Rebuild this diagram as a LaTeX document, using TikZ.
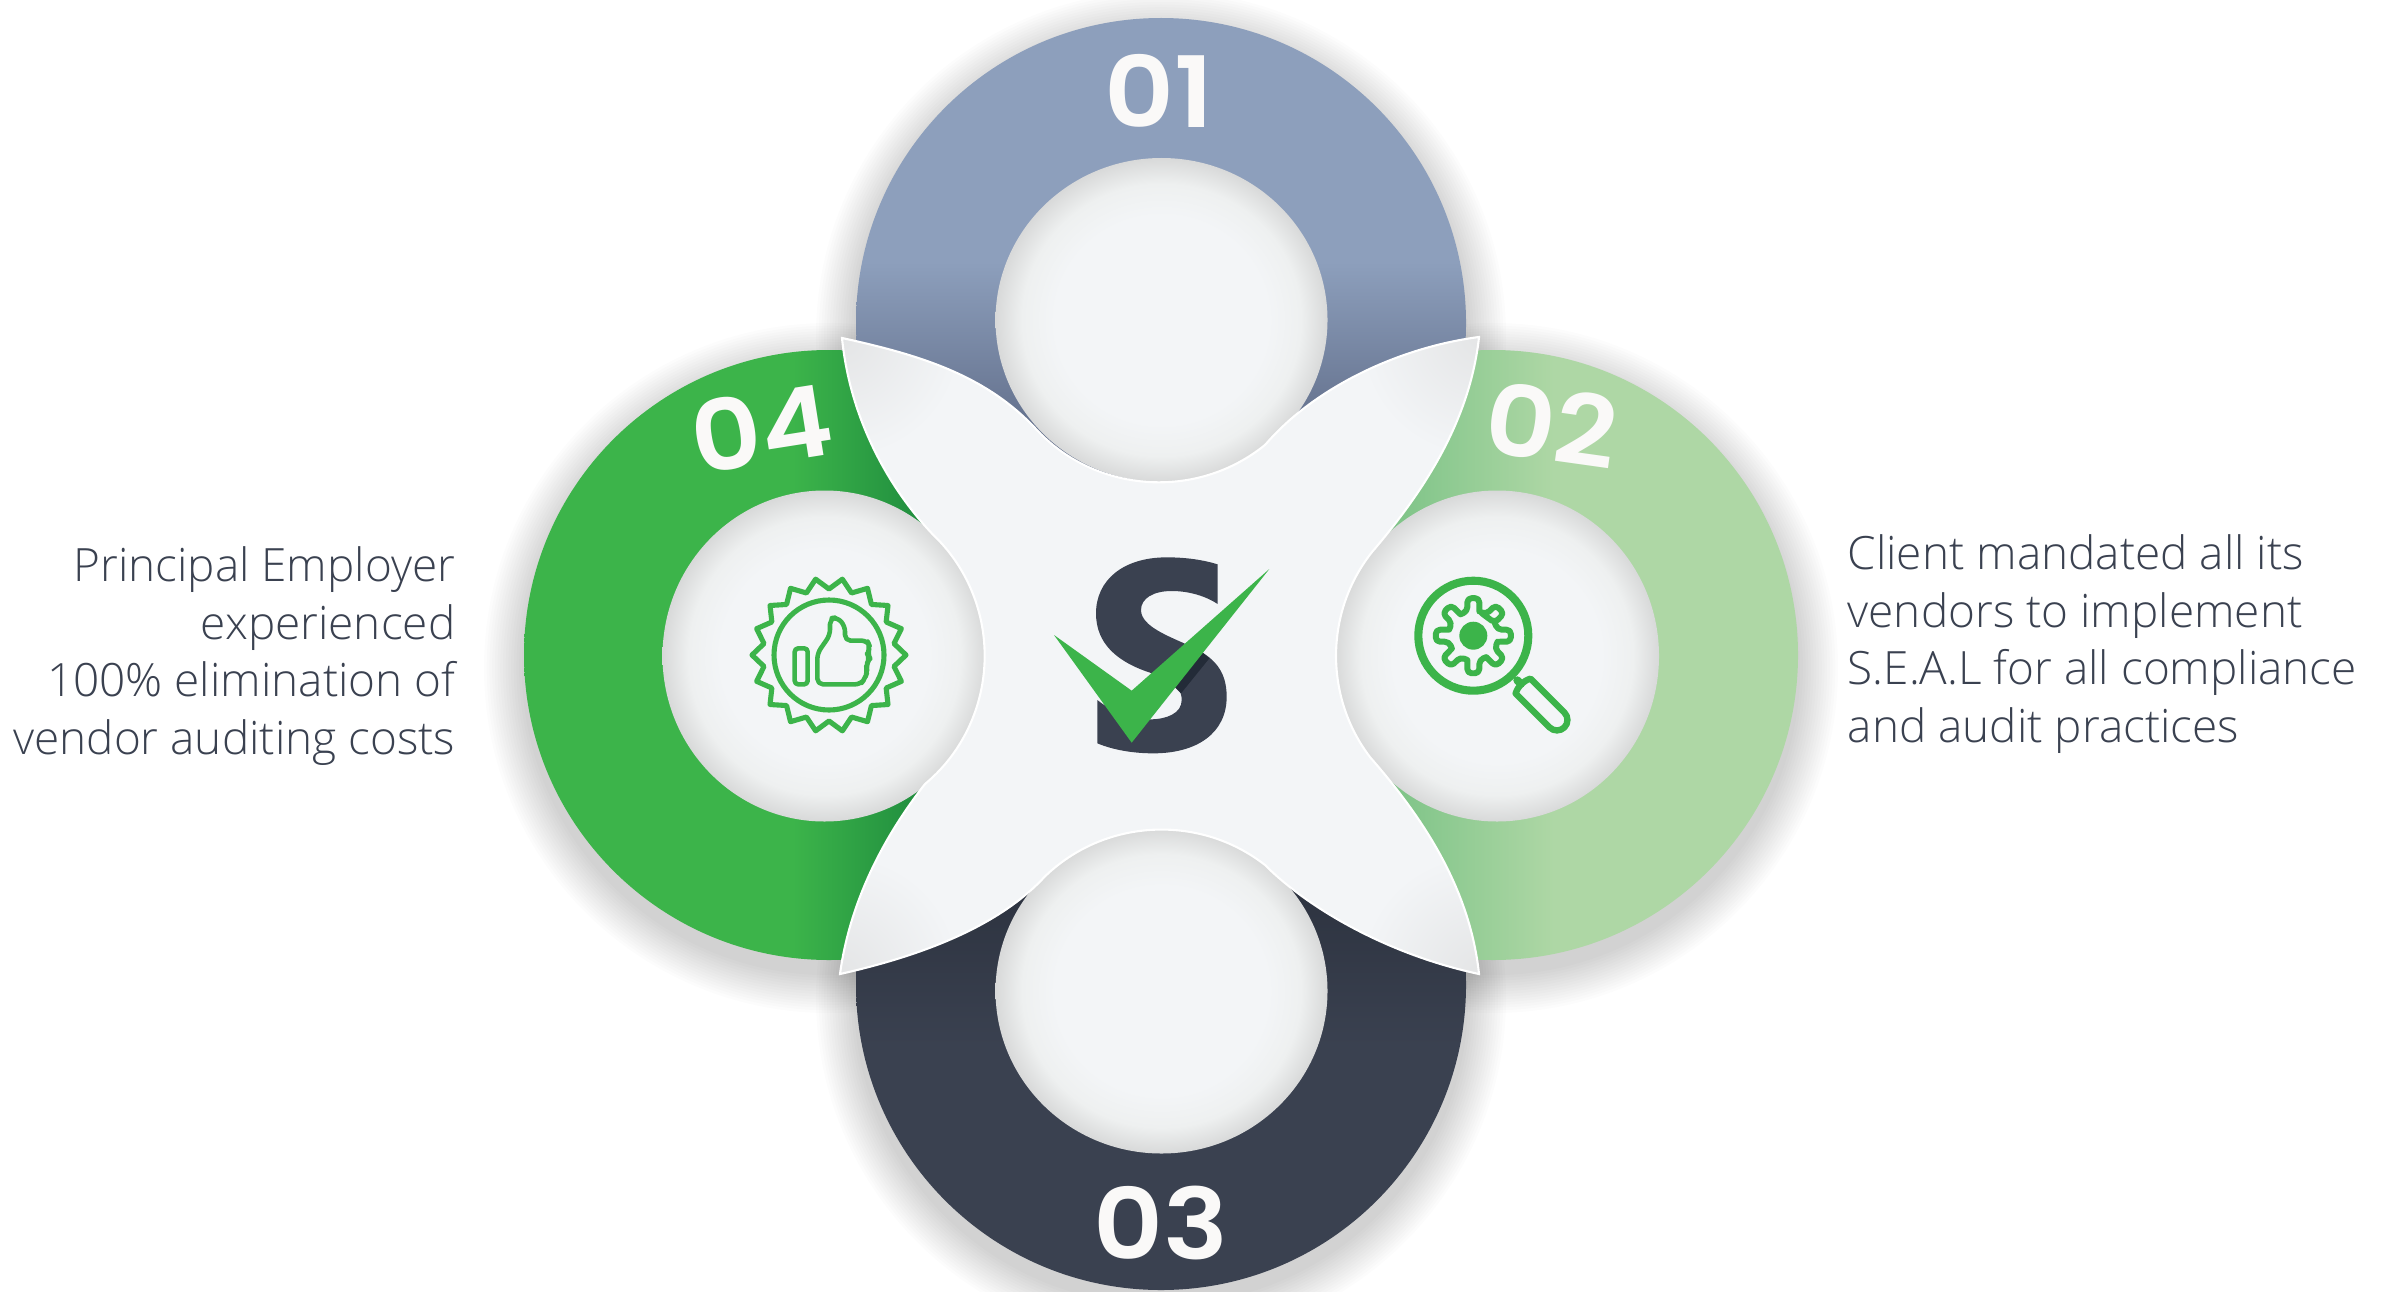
\documentclass[tikz,border=0pt]{standalone}
\usepackage{fontspec}
\setmainfont{Open Sans}
\newfontfamily\bodyfont{Open Sans Light}
\newfontfamily\numfont{Poppins SemiBold}
\usetikzlibrary{calc}
\definecolor{bluea}{HTML}{8D9FBC}
\definecolor{blueb}{HTML}{626F8B}
\definecolor{lighta}{HTML}{AED7A5}
\definecolor{lightb}{HTML}{7FC488}
\definecolor{navy}{HTML}{3A4150}
\definecolor{navyb}{HTML}{2E3441}
\definecolor{greena}{HTML}{3CB44A}
\definecolor{greenb}{HTML}{1F8C3E}
\definecolor{paper}{HTML}{F3F5F7}
\definecolor{rimb}{HTML}{EEF0F0}
\definecolor{rimc}{HTML}{D8D9D9}
\definecolor{tipc}{HTML}{E4E5E6}
\definecolor{numc}{HTML}{FAF9F8}
\definecolor{shadowc}{HTML}{232B38}
\definecolor{textc}{HTML}{3A4150}
\pgfdeclareverticalshading{ringone}{100bp}{color(0bp)=(blueb); color(41bp)=(blueb); color(55bp)=(bluea); color(100bp)=(bluea)}
\pgfdeclareverticalshading{ringthree}{100bp}{color(0bp)=(navy); color(45bp)=(navy); color(57bp)=(navyb); color(100bp)=(navyb)}
\pgfdeclarehorizontalshading{ringtwo}{100bp}{color(0bp)=(lightb); color(42bp)=(lightb); color(55bp)=(lighta); color(100bp)=(lighta)}
\pgfdeclarehorizontalshading{ringfour}{100bp}{color(0bp)=(greena); color(47bp)=(greena); color(58bp)=(greenb); color(100bp)=(greenb)}
\pgfdeclareradialshading{hole}{\pgfpointorigin}{color(0bp)=(paper); color(16bp)=(paper); color(21bp)=(rimb); color(25bp)=(rimc); color(50bp)=(rimc)}
\tikzset{
  x=0.01cm,y=0.01cm,
  holedisc/.style={shading=hole},
  numlabel/.style={text=numc,font=\numfont\fontsize{28}{30}\selectfont,inner sep=0pt},
  bodytext/.style={text=textc,font=\bodyfont\fontsize{13.05}{16.45}\selectfont,inner sep=0pt},
  icon/.style={draw=greena,line join=round,line cap=round},
}
\newcommand{\wide}[1]{\scalebox{1.1}[1]{#1}}
\newcommand{\ringshadow}[2]{%
  \foreach \i in {0,...,14}{\fill[black,fill opacity=0.012] (#1,#2-13) circle[radius=305+40-\i*2.7];}}
\def\crosspath{(842,-338)
  .. controls (920,-355) and (985,-375) .. (1035,-428)
  arc[start angle=221.5,end angle=310,x radius=165.5,y radius=161]
  .. controls (1312,-390) and (1395,-348) .. (1479,-337)
  .. controls (1470,-420) and (1425,-490) .. (1372,-552)
  arc[start angle=141,end angle=218,x radius=161.5,y radius=165]
  .. controls (1425,-820) and (1470,-890) .. (1479,-974)
  .. controls (1390,-955) and (1310,-910) .. (1265,-865)
  arc[start angle=51.3,end angle=135,x radius=165.5,y radius=161.5]
  .. controls (1000,-925) and (925,-955) .. (840,-974)
  .. controls (850,-900) and (885,-835) .. (925,-784)
  arc[start angle=-51,end angle=47,x radius=161,y radius=165]
  .. controls (890,-490) and (850,-420) .. (842,-338) -- cycle}
\begin{document}
\begin{tikzpicture}
\useasboundingbox (0,0) rectangle (2389,-1291);
\clip (0,0) rectangle (2389,-1291);
\fill[white] (0,0) rectangle (2389,-1291);
% soft shadows
\ringshadow{1161}{-323}
\ringshadow{1493}{-655}
\ringshadow{1161}{-985}
\ringshadow{829}{-655}
% rings
\path[shading=ringone] (1161,-323) circle[radius=305];
\path[shading=ringtwo] (1493,-655) circle[radius=305];
\path[shading=ringthree] (1161,-985) circle[radius=305];
\path[shading=ringfour] (829,-655) circle[radius=305];
% holes
\path[holedisc] (1161.5,-320) circle[x radius=166,y radius=162];
\path[holedisc] (1497,-656) circle[x radius=162,y radius=165.5];
\path[holedisc] (1161.5,-991) circle[x radius=166,y radius=162.5];
\path[holedisc] (824.5,-656) circle[x radius=162,y radius=165.5];
% centre cross
\fill[paper] \crosspath;
\begin{scope}
  \clip \crosspath;
  \foreach \cx/\cy in {842/-338,1479/-337,1479/-974,840/-974}{
    \path[shading=radial,inner color=tipc,outer color=paper] (\cx,\cy) circle[radius=120];}
\end{scope}
\draw[white,line width=0.6pt,line join=miter] \crosspath;
% numbers
\node[numlabel] (n1) at (1159,-91) {\wide{01}};
\node[numlabel,rotate=-8] (n2) at (1552,-425) {\wide{02}};
\node[numlabel] (n3) at (1161,-1223) {\wide{03}};
\node[numlabel,rotate=9] (n4) at (762,-428) {\wide{04}};
% side text
\node[bodytext,anchor=east,align=right] (tleft) at (456,-656) {Principal Employer\\experienced\\100\% elimination of\\vendor auditing costs};
\node[bodytext,anchor=west,align=left] (tright) at (1847,-644) {Client mandated all its\\vendors to implement\\S.E.A.L for all compliance\\and audit practices};
% logo S and check (traced in zoom coordinates)
\begin{scope}[shift={(950,-480)},scale=1/3]
  \fill[navy] (803,-253) .. controls (760,-240) and (710,-232) .. (650,-232)
    .. controls (520,-232) and (438,-300) .. (438,-400)
    .. controls (438,-490) and (500,-545) .. (600,-578)
    -- (680,-620)
    .. controls (692,-635) and (695,-645) .. (695,-660)
    .. controls (695,-700) and (650,-718) .. (600,-718)
    .. controls (540,-718) and (485,-695) .. (442,-660)
    -- (442,-790)
    .. controls (490,-810) and (550,-820) .. (610,-820)
    .. controls (740,-820) and (830,-760) .. (830,-650)
    .. controls (830,-570) and (790,-530) .. (720,-498)
    .. controls (660,-470) and (573,-440) .. (573,-390)
    .. controls (573,-355) and (610,-333) .. (665,-333)
    .. controls (720,-333) and (770,-350) .. (803,-372) -- cycle;
  \fill[shadowc] (757,-517) -- (778,-535) -- (693,-640) -- (675,-622) -- cycle;
  \fill[greena] (312,-465) -- (545,-632) -- (958,-267) -- (545,-788) -- cycle;
\end{scope}
% magnifier icon
\begin{scope}[shift={(1473.3,-635.7)}]
  \draw[icon,line width=2.3pt] (0,0) circle[radius=55];
  \fill[greena] (0,0) circle[radius=14];
  \draw[icon,line width=1.7pt,rounded corners=1.2pt]
    \foreach \a in {90,135,...,405}{ (\a-14:25) -- (\a-9:38) -- (\a+9:38) -- (\a+14:25) -- (\a+31:25) } -- cycle;
\end{scope}
\begin{scope}[shift={(1523,-686)},rotate=-45]
  \draw[icon,line width=1.8pt] (0,-10.5) -- (48,-10.5) arc[start angle=-90,end angle=90,radius=10.5] -- (0,10.5) to[bend right=25] (0,-10.5);
  \draw[icon,line width=2.3pt] (-8,0) -- (-3,0);
\end{scope}
% badge icon
\begin{scope}[shift={(829,-655)}]
  \draw[icon,line width=1.45pt] (0,0) circle[radius=55];
  \draw[icon,line width=1.45pt]
    (0:77) \foreach \a in {0,20,...,340}{ -- (\a:77) -- (\a+10:66) } -- cycle;
\end{scope}
\begin{scope}[shift={(730,-550)},scale=1/3]
  \draw[icon,line width=1.3pt,rounded corners=1pt] (194,-295) rectangle (233,-403);
  \draw[icon,line width=1.3pt,rounded corners=1.6pt] (262,-403) -- (262,-310) -- (300,-255) -- (300,-205) -- (322,-202) -- (345,-228) -- (345,-272) -- (412,-272) -- (420,-290) -- (412,-312) -- (420,-325) -- (408,-345) -- (412,-365) -- (405,-385) -- (392,-403) -- cycle;
\end{scope}
\end{tikzpicture}
\end{document}
